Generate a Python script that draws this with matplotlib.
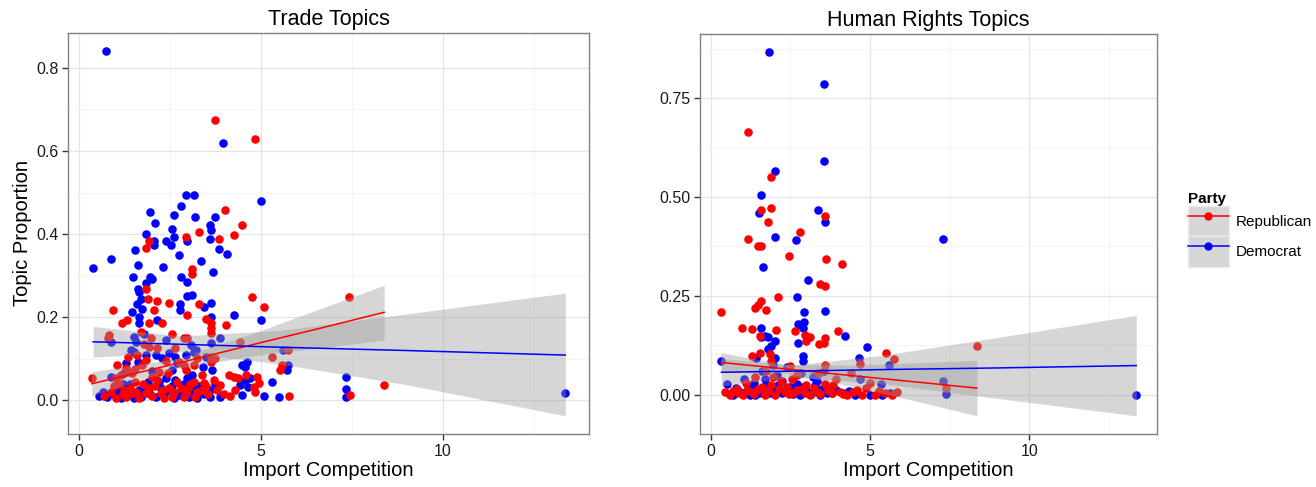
#Recreacion de los graficos de dispersion: competencia de importaciones vs proporcion de temas
import numpy as np
import matplotlib
matplotlib.use('Agg')
import matplotlib.pyplot as plt
from matplotlib.lines import Line2D
from matplotlib.patches import Patch
from matplotlib.legend_handler import HandlerTuple
from matplotlib.ticker import MultipleLocator, FormatStrFormatter

plt.rcParams['font.family'] = ['Liberation Sans', 'DejaVu Sans']

#Trade Topics - puntos republicanos (competencia, proporcion)
trade_rep = [
    (3.73, 0.675), (4.83, 0.630), (4.01, 0.457), (4.49, 0.423), (3.30, 0.406), (4.27, 0.397),
    (2.93, 0.393), (3.86, 0.388), (1.93, 0.384), (1.85, 0.367), (3.10, 0.315), (3.11, 0.305),
    (1.85, 0.268), (4.75, 0.249), (7.42, 0.248), (1.91, 0.245), (2.15, 0.239), (2.47, 0.235),
    (3.30, 0.233), (5.08, 0.224), (0.94, 0.217), (2.06, 0.217), (2.98, 0.205), (1.19, 0.185),
    (1.33, 0.193), (1.92, 0.185), (2.29, 0.185), (3.48, 0.197), (3.62, 0.185), (3.62, 0.173),
    (3.62, 0.161), (4.04, 0.181), (0.83, 0.157), (1.70, 0.165), (1.97, 0.149), (2.88, 0.149),
    (2.97, 0.149), (4.44, 0.141), (5.76, 0.121), (1.92, 0.129), (2.15, 0.125), (2.65, 0.125),
    (1.83, 0.097), (1.74, 0.085), (2.75, 0.093), (2.88, 0.085), (3.25, 0.101), (3.62, 0.105),
    (3.62, 0.093), (3.75, 0.101), (5.30, 0.105), (5.58, 0.085), (5.53, 0.073), (1.29, 0.077),
    (1.38, 0.069), (1.47, 0.065), (1.01, 0.053), (0.35, 0.055), (2.02, 0.057), (2.20, 0.069),
    (2.93, 0.073), (3.39, 0.061), (4.12, 0.061), (4.25, 0.057), (4.38, 0.053), (4.89, 0.057),
    (4.94, 0.041), (3.89, 0.037), (4.80, 0.033), (0.88, 0.021), (1.01, 0.005), (1.29, 0.009),
    (1.24, 0.025), (1.47, 0.017), (1.83, 0.017), (1.92, 0.029), (2.25, 0.017), (2.47, 0.029),
    (2.56, 0.009), (2.88, 0.009), (3.20, 0.009), (3.39, 0.025), (3.43, 0.041), (3.80, 0.025),
    (4.16, 0.010), (4.29, 0.025), (4.85, 0.021), (5.77, 0.010), (7.45, 0.012), (8.39, 0.036),
    (0.70, 0.010), (1.10, 0.040), (1.55, 0.045), (1.65, 0.005), (2.10, 0.035), (2.35, 0.005),
    (2.70, 0.045), (3.00, 0.030), (3.55, 0.015), (1.15, 0.060), (1.60, 0.110), (2.40, 0.095),
    (1.80, 0.135), (1.35, 0.105), (2.55, 0.160), (3.05, 0.040), (0.80, 0.150), (4.60, 0.060),
    (0.95, 0.035), (1.20, 0.015), (1.40, 0.030), (1.58, 0.020), (1.75, 0.040), (2.00, 0.010),
    (2.15, 0.050), (2.30, 0.025), (2.60, 0.020), (2.80, 0.030), (2.95, 0.015), (3.15, 0.045),
    (3.25, 0.020), (3.50, 0.035), (3.70, 0.050), (4.00, 0.015), (1.05, 0.085), (1.55, 0.075),
    (2.45, 0.065), (3.15, 0.085),
]

#Trade Topics - puntos democratas
trade_dem = [
    (0.74, 0.840), (3.95, 0.620), (2.95, 0.495), (3.17, 0.495), (5.00, 0.479), (2.80, 0.467),
    (1.96, 0.453), (2.62, 0.447), (3.18, 0.441), (3.73, 0.442), (2.08, 0.427), (3.61, 0.421),
    (3.63, 0.410), (2.56, 0.412), (1.85, 0.400), (2.62, 0.393), (2.96, 0.384), (3.61, 0.388),
    (2.07, 0.384), (2.05, 0.373), (2.40, 0.384), (2.52, 0.373), (3.86, 0.365), (1.54, 0.361),
    (4.07, 0.352), (0.88, 0.340), (2.76, 0.349), (0.39, 0.318), (1.62, 0.326), (3.36, 0.336),
    (2.31, 0.322), (3.68, 0.310), (1.48, 0.296), (1.96, 0.297), (2.02, 0.291), (2.80, 0.296),
    (2.98, 0.284), (1.85, 0.283), (1.61, 0.269), (1.65, 0.261), (1.70, 0.245), (1.60, 0.233),
    (2.98, 0.251), (3.11, 0.253), (2.79, 0.233), (2.79, 0.217), (3.43, 0.225), (3.62, 0.235),
    (1.45, 0.213), (1.74, 0.221), (3.62, 0.201), (4.25, 0.205), (5.00, 0.193), (1.65, 0.201),
    (1.65, 0.185), (2.15, 0.193), (1.52, 0.153), (1.56, 0.141), (0.88, 0.141), (2.38, 0.145),
    (3.07, 0.133), (3.21, 0.121), (3.62, 0.137), (3.89, 0.149), (5.62, 0.121), (1.42, 0.121),
    (1.51, 0.117), (2.47, 0.113), (2.11, 0.109), (2.29, 0.101), (1.61, 0.093), (2.93, 0.109),
    (3.16, 0.117), (4.48, 0.085), (4.62, 0.093), (4.57, 0.081), (5.71, 0.073), (5.76, 0.085),
    (1.24, 0.065), (0.88, 0.057), (2.38, 0.053), (2.56, 0.073), (3.11, 0.061), (2.98, 0.053),
    (3.66, 0.073), (4.71, 0.053), (5.30, 0.045), (4.57, 0.049), (4.66, 0.033), (4.44, 0.037),
    (0.56, 0.010), (0.78, 0.009), (1.10, 0.025), (1.33, 0.013), (1.65, 0.025), (1.70, 0.009),
    (2.11, 0.009), (2.43, 0.025), (2.75, 0.013), (2.88, 0.025), (3.02, 0.009), (3.16, 0.017),
    (3.61, 0.025), (3.61, 0.009), (3.89, 0.009), (4.48, 0.013), (5.08, 0.010), (5.49, 0.009),
    (7.34, 0.057), (7.34, 0.028), (7.34, 0.008), (13.37, 0.018),
    (1.20, 0.040), (1.50, 0.005), (1.90, 0.045), (2.25, 0.030), (2.60, 0.005), (3.30, 0.035),
    (1.00, 0.030), (2.00, 0.070), (1.80, 0.160), (2.70, 0.090), (3.40, 0.080),
    (0.65, 0.020), (0.95, 0.015), (1.15, 0.005), (1.40, 0.040), (1.75, 0.030), (1.95, 0.015),
    (2.20, 0.045), (2.35, 0.015), (2.55, 0.035), (2.65, 0.050), (2.90, 0.040), (3.10, 0.030),
    (3.25, 0.005), (3.45, 0.015), (3.75, 0.040), (1.30, 0.090), (1.85, 0.110), (2.65, 0.105),
    (3.50, 0.105),
]

#Human Rights Topics - puntos republicanos
hr_rep = [
    (1.19, 0.664), (1.90, 0.550), (1.90, 0.472), (1.57, 0.467), (3.58, 0.452), (1.80, 0.437),
    (2.82, 0.412), (1.19, 0.394), (1.49, 0.376), (1.59, 0.376), (2.45, 0.351), (3.63, 0.343),
    (4.14, 0.331), (3.43, 0.281), (3.58, 0.276), (2.13, 0.248), (1.58, 0.236), (1.49, 0.226),
    (1.39, 0.219), (1.73, 0.215), (0.32, 0.210), (1.00, 0.169), (1.31, 0.166), (2.05, 0.165),
    (3.99, 0.162), (8.36, 0.123), (7.40, 0.018), (5.52, 0.106), (5.76, 0.090), (1.55, 0.149),
    (1.55, 0.107), (1.86, 0.103), (1.91, 0.086), (1.29, 0.098), (2.65, 0.162), (2.99, 0.137),
    (3.12, 0.147), (3.41, 0.128), (3.56, 0.132), (3.59, 0.143), (2.49, 0.073), (3.59, 0.075),
    (4.68, 0.077), (4.42, 0.056), (4.89, 0.018), (2.96, 0.150),
    (0.45, 0.007), (0.61, 0.000), (0.82, 0.015), (1.02, 0.000), (1.29, 0.007), (1.49, 0.015),
    (1.70, 0.000), (1.91, 0.024), (2.02, 0.000), (2.33, 0.007), (2.59, 0.004), (2.86, 0.015),
    (3.12, 0.000), (3.33, 0.007), (3.59, 0.027), (3.80, 0.004), (4.06, 0.007), (4.27, 0.000),
    (4.47, 0.007), (4.74, 0.000), (5.16, 0.000), (5.47, 0.004), (5.68, 0.000), (5.84, 0.007),
    (3.85, 0.024), (1.10, 0.030), (1.40, 0.045), (2.20, 0.035), (2.70, 0.050), (3.00, 0.025),
    (1.75, 0.060), (2.40, 0.020), (0.90, 0.005), (3.95, 0.040), (5.00, 0.030),
    (0.70, 0.010), (1.15, 0.012), (1.35, 0.003), (1.60, 0.020), (1.80, 0.010), (2.15, 0.015),
    (2.45, 0.002), (2.70, 0.012), (2.95, 0.005), (3.25, 0.018), (3.45, 0.002), (3.70, 0.012),
    (4.15, 0.002), (4.60, 0.012), (5.30, 0.010), (1.95, 0.045), (2.55, 0.040), (3.40, 0.055),
]

#Human Rights Topics - puntos democratas
hr_dem = [
    (1.83, 0.866), (3.56, 0.786), (3.56, 0.590), (2.03, 0.565), (1.59, 0.504), (1.51, 0.460),
    (3.38, 0.467), (3.58, 0.437), (2.03, 0.399), (2.67, 0.391), (1.65, 0.324), (3.06, 0.290),
    (2.70, 0.247), (3.58, 0.213), (2.92, 0.210), (2.94, 0.183), (2.78, 0.176), (1.58, 0.170),
    (7.29, 0.393), (13.36, 0.000), (7.29, 0.035), (7.38, 0.002), (4.22, 0.148), (4.90, 0.120),
    (4.66, 0.094), (5.60, 0.075), (5.35, 0.028), (1.58, 0.145), (1.70, 0.149), (1.81, 0.147),
    (2.02, 0.135), (1.91, 0.124), (1.81, 0.115), (1.44, 0.094), (2.02, 0.094), (2.75, 0.179),
    (2.89, 0.169), (2.75, 0.132), (2.91, 0.098), (2.91, 0.086), (0.34, 0.085),
    (0.50, 0.027), (0.71, 0.000), (0.92, 0.007), (1.18, 0.024), (1.39, 0.000), (1.65, 0.015),
    (1.86, 0.004), (2.12, 0.024), (2.23, 0.004), (2.49, 0.020), (2.70, 0.027), (2.80, 0.000),
    (3.01, 0.011), (3.27, 0.024), (3.43, 0.000), (3.64, 0.004), (3.95, 0.011), (4.16, 0.004),
    (4.53, 0.000), (5.00, 0.000), (5.37, 0.000), (5.63, 0.004), (1.23, 0.000),
    (1.05, 0.040), (1.60, 0.060), (2.10, 0.050), (2.40, 0.070), (3.20, 0.045), (3.55, 0.060),
    (1.35, 0.030), (2.60, 0.010), (4.70, 0.040), (1.95, 0.075),
    (0.80, 0.018), (1.05, 0.002), (1.30, 0.015), (1.52, 0.005), (1.75, 0.025), (1.98, 0.010),
    (2.35, 0.012), (2.60, 0.003), (2.90, 0.020), (3.15, 0.003), (3.50, 0.015), (3.80, 0.005),
    (4.35, 0.010), (1.70, 0.040), (2.25, 0.035), (2.85, 0.055), (3.35, 0.035),
]

#Rectas de regresion (lm) con su intervalo de confianza
trade_rep_fx = [0.35, 2.7, 5.0, 6.7, 8.39]
trade_rep_fit = [0.040, 0.089, 0.139, 0.175, 0.212]
trade_rep_lo = [0.011, 0.077, 0.110, 0.127, 0.145]
trade_rep_hi = [0.069, 0.101, 0.168, 0.223, 0.277]

trade_dem_fx = [0.39, 2.8, 5.5, 9.0, 13.37]
trade_dem_fit = [0.141, 0.135, 0.128, 0.120, 0.109]
trade_dem_lo = [0.104, 0.116, 0.088, 0.038, -0.037]
trade_dem_hi = [0.178, 0.155, 0.168, 0.208, 0.258]

hr_rep_fx = [0.32, 2.3, 4.5, 6.4, 8.36]
hr_rep_fit = [0.082, 0.066, 0.048, 0.033, 0.017]
hr_rep_lo = [0.057, 0.055, 0.021, -0.015, -0.053]
hr_rep_hi = [0.107, 0.077, 0.075, 0.081, 0.087]

hr_dem_fx = [0.34, 2.6, 5.5, 9.0, 13.36]
hr_dem_fit = [0.057, 0.060, 0.064, 0.068, 0.074]
hr_dem_lo = [0.022, 0.045, 0.027, -0.009, -0.053]
hr_dem_hi = [0.092, 0.075, 0.101, 0.145, 0.201]

partidos = ['Republican', 'Democrat']
colores = {'Republican': '#FF0000', 'Democrat': '#0000FF'}


def expandir(valores):
    #Limites con 5% de margen (como ggplot)
    vmin, vmax = min(valores), max(valores)
    m = (vmax - vmin) * 0.05
    return vmin - m, vmax + m


def dibujar_panel(ax, puntos, ajustes, titulo, paso_y, formato_y):
    todos_x, todos_y = [], []
    #Democratas primero para que los puntos rojos queden encima en la zona densa
    for partido in ['Democrat', 'Republican']:
        xy = np.array(puntos[partido])
        ax.scatter(xy[:, 0], xy[:, 1], s=38, color=colores[partido], linewidths=0, zorder=2)
        todos_x += list(xy[:, 0])
        todos_y += list(xy[:, 1])
    for partido in partidos:
        fx, fit, lo, hi = ajustes[partido]
        ax.fill_between(fx, lo, hi, color='#999999', alpha=0.4, linewidth=0, zorder=3)
        ax.plot(fx, fit, color=colores[partido], linewidth=1.1, zorder=4)
        todos_y += list(lo) + list(hi)

    ax.set_xlim(*expandir(todos_x))
    ax.set_ylim(*expandir(todos_y))

    ax.xaxis.set_major_locator(MultipleLocator(5))
    ax.xaxis.set_minor_locator(MultipleLocator(2.5))
    ax.yaxis.set_major_locator(MultipleLocator(paso_y))
    ax.yaxis.set_minor_locator(MultipleLocator(paso_y / 2))
    ax.yaxis.set_major_formatter(FormatStrFormatter(formato_y))

    ax.grid(True, which='major', color='#E6E6E6', linewidth=1.0, zorder=0)
    ax.grid(True, which='minor', color='#F4F4F4', linewidth=0.7, zorder=0)
    ax.set_axisbelow(True)
    for lado in ax.spines.values():
        lado.set_color('#808080')
        lado.set_linewidth(1.0)
    ax.tick_params(which='major', direction='out', length=4, width=1.0, color='#333333',
                   labelsize=11.5, labelcolor='#1a1a1a', pad=3)
    ax.tick_params(which='minor', length=0)

    ax.set_title(titulo, fontsize=15.5, pad=6)
    ax.set_xlabel('Import Competition', fontsize=14.5, labelpad=2)


fig = plt.figure(figsize=(13.16, 4.87), dpi=100)
ax1 = fig.add_axes([68 / 1316, 53 / 487, 521 / 1316, 401 / 487])
ax2 = fig.add_axes([700 / 1316, 53 / 487, 457 / 1316, 400 / 487])

dibujar_panel(ax1,
              {'Republican': trade_rep, 'Democrat': trade_dem},
              {'Republican': (trade_rep_fx, trade_rep_fit, trade_rep_lo, trade_rep_hi),
               'Democrat': (trade_dem_fx, trade_dem_fit, trade_dem_lo, trade_dem_hi)},
              'Trade Topics', 0.2, '%.1f')
ax1.set_ylabel('Topic Proportion', fontsize=14.5, labelpad=3)

dibujar_panel(ax2,
              {'Republican': hr_rep, 'Democrat': hr_dem},
              {'Republican': (hr_rep_fx, hr_rep_fit, hr_rep_lo, hr_rep_hi),
               'Democrat': (hr_dem_fx, hr_dem_fit, hr_dem_lo, hr_dem_hi)},
              'Human Rights Topics', 0.25, '%.2f')

#Leyenda con fondo gris como la de geom_smooth
manijas = [(Patch(facecolor='#D6D6D6', edgecolor='#EBEBEB', linewidth=1.0),
            Line2D([], [], color=colores[p], marker='o', markersize=5, linewidth=1.1))
           for p in partidos]
fig.legend(manijas, partidos, handler_map={tuple: HandlerTuple(ndivide=1)},
           loc='upper left', bbox_to_anchor=(1180 / 1316, 1 - 184 / 487),
           frameon=False, title='Party', title_fontproperties={'weight': 'bold', 'size': 11},
           fontsize=11, handlelength=2.7, handleheight=2.7, labelspacing=0,
           handletextpad=0.45, borderpad=0, alignment='left', numpoints=1)

fig.savefig('out.png', dpi=100)
plt.close(fig)
